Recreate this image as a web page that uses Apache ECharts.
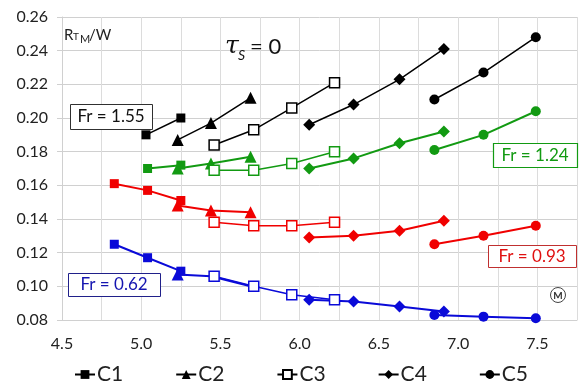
<!DOCTYPE html>
<html>
<head>
<meta charset="utf-8">
<script src="https://cdn.jsdelivr.net/npm/echarts@6/dist/echarts.min.js"></script>
<style>
html,body{margin:0;padding:0;background:#fff;}
#chart{width:580px;height:391px;}
</style>
</head>
<body>
<div id="chart"></div>
<script>
// ---- data: x value, RTM/W per configuration and Froude number ----
const xTicks = [4.5, 5.0, 5.5, 6.0, 6.5, 7.0, 7.5];
const yTicks = [0.08, 0.10, 0.12, 0.14, 0.16, 0.18, 0.20, 0.22, 0.24, 0.26];
const configs = ['C1', 'C2', 'C3', 'C4', 'C5'];
const froude = ['1.55', '1.24', '0.93', '0.62'];

// Fr = 1.55 (black)
const C1_Fr155 = [[5.03, 0.190], [5.25, 0.200]];
const C2_Fr155 = [[5.23, 0.187], [5.44, 0.197], [5.69, 0.212]];
const C3_Fr155 = [[5.46, 0.184], [5.71, 0.193], [5.95, 0.206], [6.22, 0.221]];
const C4_Fr155 = [[6.06, 0.196], [6.34, 0.208], [6.63, 0.223], [6.91, 0.241]];
const C5_Fr155 = [[6.85, 0.211], [7.16, 0.227], [7.49, 0.248]];
// Fr = 1.24 (green)
const C1_Fr124 = [[5.04, 0.170], [5.25, 0.172]];
const C2_Fr124 = [[5.23, 0.170], [5.44, 0.173], [5.69, 0.177]];
const C3_Fr124 = [[5.46, 0.169], [5.71, 0.169], [5.95, 0.173], [6.22, 0.180]];
const C4_Fr124 = [[6.06, 0.170], [6.34, 0.176], [6.63, 0.185], [6.91, 0.192]];
const C5_Fr124 = [[6.85, 0.181], [7.16, 0.190], [7.49, 0.204]];
// Fr = 0.93 (red)
const C1_Fr093 = [[4.83, 0.161], [5.04, 0.157], [5.25, 0.151]];
const C2_Fr093 = [[5.23, 0.148], [5.44, 0.145], [5.69, 0.144]];
const C3_Fr093 = [[5.46, 0.138], [5.71, 0.136], [5.95, 0.136], [6.22, 0.138]];
const C4_Fr093 = [[6.06, 0.129], [6.34, 0.130], [6.63, 0.133], [6.91, 0.139]];
const C5_Fr093 = [[6.85, 0.125], [7.16, 0.130], [7.49, 0.136]];
// Fr = 0.62 (blue)
const C1_Fr062 = [[4.83, 0.125], [5.04, 0.117], [5.25, 0.109]];
const C2_Fr062 = [[5.23, 0.107], [5.44, 0.106], [5.69, 0.100]];
const C3_Fr062 = [[5.46, 0.106], [5.71, 0.100], [5.95, 0.095], [6.22, 0.092]];
const C4_Fr062 = [[6.06, 0.092], [6.34, 0.091], [6.63, 0.088], [6.91, 0.085]];
const C5_Fr062 = [[6.85, 0.083], [7.16, 0.082], [7.49, 0.081]];

const groups = [
  {col: '#000000', lw: 1.5, data: [C1_Fr155, C2_Fr155, C3_Fr155, C4_Fr155, C5_Fr155]},
  {col: '#129a12', lw: 2, data: [C1_Fr124, C2_Fr124, C3_Fr124, C4_Fr124, C5_Fr124]},
  {col: '#f00000', lw: 2, data: [C1_Fr093, C2_Fr093, C3_Fr093, C4_Fr093, C5_Fr093]},
  {col: '#0a0ad8', lw: 2, data: [C1_Fr062, C2_Fr062, C3_Fr062, C4_Fr062, C5_Fr062]}
];
const symbols = {
  C1: {s: 'rect', size: 9, open: false},
  C2: {s: 'triangle', size: 12, open: false},
  C3: {s: 'rect', size: 10, open: true},
  C4: {s: 'diamond', size: 12, open: false},
  C5: {s: 'circle', size: 10, open: false}
};

const FONT = 'Lato, "Liberation Sans", sans-serif';
const series = [];
groups.forEach((g, gi) => {
  configs.forEach((c, i) => {
    const sy = symbols[c];
    // blue C2 triangles beyond the first lie hidden beneath the C3 markers in the source
    const hideTail = (gi === 3 && c === 'C2');
    series.push({
      type: 'line',
      name: c,
      data: g.data[i],
      symbol: sy.s,
      symbolSize: hideTail ? ((v, p) => p.dataIndex === 0 ? sy.size : 0) : sy.size,
      showSymbol: true,
      lineStyle: {color: g.col, width: sy.open ? Math.max(1.5, g.lw - 0.5) : g.lw},
      itemStyle: sy.open ? {color: '#ffffff', borderColor: g.col, borderWidth: 1.5}
                         : {color: g.col, borderWidth: 0},
      emphasis: {disabled: true},
      animation: false
    });
  });
});

function near(v, arr) { return arr.some(t => Math.abs(t - v) < 1e-6); }

const Z = 100;
const chart = echarts.init(document.getElementById('chart'), null, {renderer: 'canvas'});
chart.setOption({
  backgroundColor: '#ffffff',
  animation: false,
  grid: {left: 62, right: 0, top: 17, bottom: 71, containLabel: false},
  xAxis: {
    type: 'value', min: 4.5, max: 7.75, interval: 0.25,
    axisLine: {show: true, lineStyle: {color: '#d0d0d0', width: 1}},
    axisTick: {show: false},
    splitLine: {show: true, lineStyle: {color: '#dcdcdc', width: 1}},
    axisLabel: {
      margin: 16, fontSize: 16, color: '#222', fontFamily: FONT,
      formatter: v => near(v, xTicks) ? v.toFixed(1) : ''
    }
  },
  yAxis: {
    type: 'value', min: 0.08, max: 0.26, interval: 0.02,
    axisLine: {show: true, lineStyle: {color: '#d0d0d0', width: 1}},
    axisTick: {show: true, length: 5, lineStyle: {color: '#d0d0d0'}},
    splitLine: {show: true, lineStyle: {color: '#d0d0d0', width: 1}},
    axisLabel: {
      margin: 14, fontSize: 16, color: '#222', fontFamily: FONT,
      formatter: v => near(v, yTicks) ? v.toFixed(2) : ''
    }
  },
  legend: {
    data: configs, left: 74, top: 364, padding: 0,
    itemWidth: 20, itemHeight: 11, itemGap: 52,
    textStyle: {fontSize: 21, color: '#222', fontFamily: FONT, padding: [0, 0, 0, -3]},
    selectedMode: false
  },
  graphic: [
    // y-axis title R_T_M / W
    {type: 'text', z: Z, left: 64, top: 28, style: {text: 'R', font: '15px ' + FONT, fill: '#222'}},
    {type: 'text', z: Z, left: 73, top: 32, style: {text: 'T', font: '10px ' + FONT, fill: '#222'}},
    {type: 'text', z: Z, left: 80, top: 34, style: {text: 'M', font: '11px ' + FONT, fill: '#222'}},
    {type: 'text', z: Z, left: 89, top: 28, style: {text: '/W', font: '15px ' + FONT, fill: '#222'}},
    // tau_S = 0
    {type: 'text', z: Z, left: 225, top: 34, style: {text: 'τ', font: 'italic 25px "DejaVu Serif", serif', fill: '#111'}},
    {type: 'text', z: Z, left: 238, top: 48, style: {text: 'S', font: 'italic 14px ' + FONT, fill: '#111'}},
    {type: 'text', z: Z, left: 250, top: 36, style: {text: '= 0', font: '22px ' + FONT, fill: '#111'}},
    // Fr boxes
    {type: 'rect', z: Z, shape: {x: 70.5, y: 104.5, width: 82, height: 25}, style: {fill: '#fff', stroke: '#303030', lineWidth: 1}},
    {type: 'text', z: Z + 1, x: 111, y: 117, style: {text: 'Fr = 1.55', font: '17px ' + FONT, fill: '#111', textAlign: 'center', textVerticalAlign: 'middle'}},
    {type: 'rect', z: Z, shape: {x: 493.5, y: 143.5, width: 84, height: 24}, style: {fill: '#fff', stroke: '#129a12', lineWidth: 1.2}},
    {type: 'text', z: Z + 1, x: 535, y: 156, style: {text: 'Fr = 1.24', font: '17px ' + FONT, fill: '#129a12', textAlign: 'center', textVerticalAlign: 'middle'}},
    {type: 'rect', z: Z, shape: {x: 488.5, y: 245.5, width: 88, height: 22}, style: {fill: '#fff', stroke: '#c03030', lineWidth: 1}},
    {type: 'text', z: Z + 1, x: 532, y: 257, style: {text: 'Fr = 0.93', font: '17px ' + FONT, fill: '#e01010', textAlign: 'center', textVerticalAlign: 'middle'}},
    {type: 'rect', z: Z, shape: {x: 68.5, y: 273.5, width: 92, height: 23}, style: {fill: '#fff', stroke: '#20208a', lineWidth: 1}},
    {type: 'text', z: Z + 1, x: 114, y: 285, style: {text: 'Fr = 0.62', font: '17px ' + FONT, fill: '#1515b0', textAlign: 'center', textVerticalAlign: 'middle'}},
    // circled M
    {type: 'circle', z: Z, shape: {cx: 558, cy: 295, r: 7.5}, style: {fill: '#fff', stroke: '#444', lineWidth: 1}},
    {type: 'text', z: Z + 1, x: 558, y: 295.5, style: {text: 'M', font: 'bold 10px ' + FONT, fill: '#333', textAlign: 'center', textVerticalAlign: 'middle'}}
  ],
  series: series
});
</script>
</body>
</html>
